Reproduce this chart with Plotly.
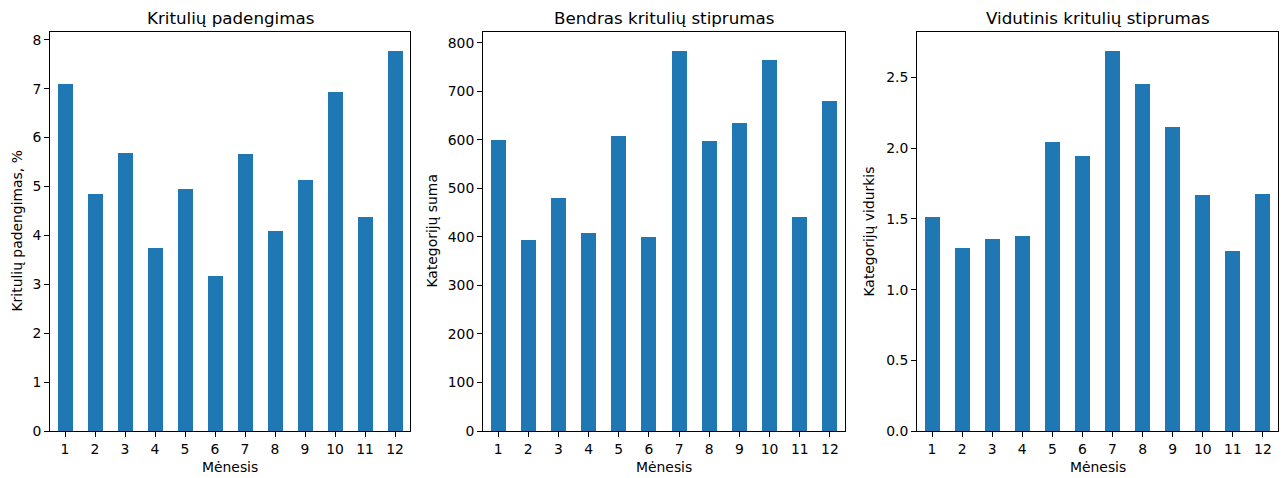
import plotly.graph_objects as go

# Monthly precipitation statistics
months = [1, 2, 3, 4, 5, 6, 7, 8, 9, 10, 11, 12]
coverage_pct = [7.10, 4.85, 5.69, 3.74, 4.95, 3.17, 5.67, 4.09, 5.14, 6.93, 4.38, 7.77]
category_sum = [600, 393, 480, 408, 608, 400, 783, 598, 635, 764, 441, 680]
category_mean = [1.516, 1.298, 1.361, 1.382, 2.047, 1.948, 2.688, 2.455, 2.153, 1.672, 1.276, 1.679]

titles = ["Kritulių padengimas", "Bendras kritulių stiprumas", "Vidutinis kritulių stiprumas"]
ylabels = ["Kritulių padengimas, %", "Kategorijų suma", "Kategorijų vidurkis"]
xlabel = "Mėnesis"

W, H = 1286, 478
BAR = "#1f77b4"
FONT = "DejaVu Sans"

# plot area pixel boxes (left, right) and shared top/bottom
panels = [(50, 410), (483, 845), (917, 1278)]
top_px, bot_px = 32, 431
ylab_x = [17, 432, 869]
series = [coverage_pct, category_sum, category_mean]
dticks = [1, 100, 0.5]
tickfmts = ["d", "d", ".1f"]

fig = go.Figure()
annotations = []
for i, (vals, (l, r)) in enumerate(zip(series, panels)):
    n = "" if i == 0 else str(i + 1)
    fig.add_trace(go.Bar(
        x=months, y=vals, width=0.5, marker=dict(color=BAR, line=dict(width=0)),
        xaxis="x" + n, yaxis="y" + n, showlegend=False,
    ))
    axis_common = dict(
        showline=True, linecolor="black", linewidth=1, mirror=True,
        ticks="outside", ticklen=5, tickwidth=1, tickcolor="black",
        showgrid=False, zeroline=False, automargin=False,
        tickfont=dict(family=FONT, size=13.9, color="black"),
    )
    fig.update_layout(**{
        "xaxis" + n: dict(
            domain=[l / W, r / W], anchor="y" + n,
            range=[0.5, 12.5], tickvals=months, ticktext=[str(m) for m in months],
            **axis_common,
        ),
        "yaxis" + n: dict(
            domain=[(H - bot_px) / H, (H - top_px) / H], anchor="x" + n,
            range=[0, max(vals) * 1.05], dtick=dticks[i], tick0=0,
            tickformat=tickfmts[i], **axis_common,
        ),
    })
    cx = (l + r) / 2 / W
    annotations.append(dict(
        text=titles[i], x=cx, y=1 - 18 / H, xref="paper", yref="paper",
        showarrow=False, xanchor="center", yanchor="middle",
        font=dict(family=FONT, size=16.7, color="black"),
    ))
    annotations.append(dict(
        text=xlabel, x=cx, y=1 - 467 / H, xref="paper", yref="paper",
        showarrow=False, xanchor="center", yanchor="middle",
        font=dict(family=FONT, size=13.9, color="black"),
    ))
    annotations.append(dict(
        text=ylabels[i], x=ylab_x[i] / W, y=1 - (top_px + bot_px) / 2 / H,
        xref="paper", yref="paper", textangle=-90,
        showarrow=False, xanchor="center", yanchor="middle",
        font=dict(family=FONT, size=13.9, color="black"),
    ))

fig.update_layout(
    width=W, height=H,
    margin=dict(l=0, r=0, t=0, b=0),
    paper_bgcolor="white", plot_bgcolor="white",
    bargap=0, annotations=annotations,
    font=dict(family=FONT, color="black"),
)

fig.write_html("out.html", config={"displayModeBar": False})
